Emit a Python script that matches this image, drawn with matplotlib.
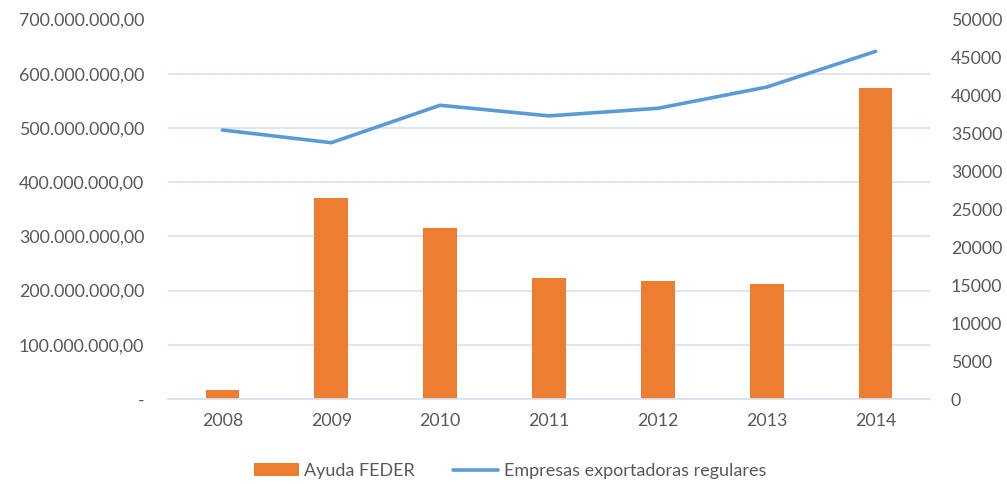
import matplotlib
matplotlib.use("Agg")
import matplotlib.pyplot as plt
from matplotlib.ticker import FuncFormatter, MultipleLocator

years = ["2008", "2009", "2010", "2011", "2012", "2013", "2014"]
ayuda_feder = [16.6e6, 371e6, 316e6, 224e6, 217e6, 213e6, 574e6]
empresas = [35440, 33770, 38700, 37300, 38300, 41100, 45800]

bar_color = "#ED7D31"
line_color = "#5B9BD5"
text_color = "#595959"
grid_color = "#D6E0EF"

plt.rcParams['font.family'] = ['Lato', 'DejaVu Sans']

fig = plt.figure(figsize=(10.07, 4.84), dpi=100)
ax = fig.add_axes([168/1007, 1 - 399/484, (930-168)/1007, (399-19.5)/484])
ax2 = ax.twinx()

x = list(range(len(years)))
ax.bar(x, ayuda_feder, width=0.31, color=bar_color, label="Ayuda FEDER", zorder=2)
ax2.plot(x, empresas, color=line_color, linewidth=2.6, solid_capstyle='round',
         label="Empresas exportadoras regulares", zorder=3)

ax.set_xlim(-0.5, 6.5)
ax.set_ylim(0, 700e6)
ax2.set_ylim(0, 50000)
ax.yaxis.set_major_locator(MultipleLocator(100e6))
ax2.yaxis.set_major_locator(MultipleLocator(5000))

def fmt_left(v, pos):
    if abs(v) < 1:
        return "-"
    s = f"{int(round(v)):,}".replace(",", ".")
    return s + ",00"

ax.yaxis.set_major_formatter(FuncFormatter(fmt_left))
ax2.yaxis.set_major_formatter(FuncFormatter(lambda v, p: f"{int(v)}"))
ax.set_xticks(x)
ax.set_xticklabels(years)

ax.grid(axis='y', color=grid_color, linewidth=1.2, zorder=0)
ax.set_axisbelow(True)
for a in (ax, ax2):
    for sp in a.spines.values():
        sp.set_visible(False)
    a.tick_params(length=0, colors=text_color, labelsize=12.8)
ax.tick_params(axis='y', pad=17)
ax.tick_params(axis='x', pad=10)
ax2.tick_params(axis='y', pad=15)
ax.spines['bottom'].set_visible(True)
ax.spines['bottom'].set_color(grid_color)
ax.spines['bottom'].set_linewidth(1.2)

h1, l1 = ax.get_legend_handles_labels()
h2, l2 = ax2.get_legend_handles_labels()
fig.legend(h1 + h2, l1 + l2, loc='center', bbox_to_anchor=(510/1007, 1 - 471/484),
           ncol=2, frameon=False, fontsize=13, labelcolor=text_color,
           handlelength=2.5, handletextpad=0.3, columnspacing=2.1)

fig.savefig("out.png", dpi=100)
